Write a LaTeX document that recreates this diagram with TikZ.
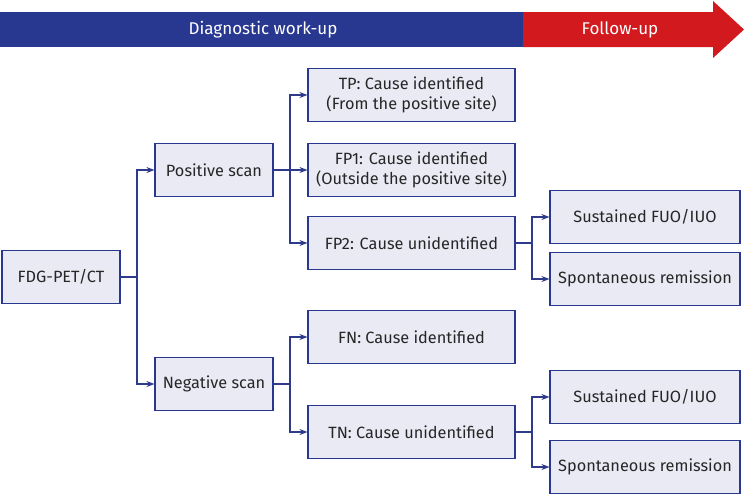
\documentclass[tikz,border=0pt]{standalone}
\usepackage{fontspec}
\setmainfont{Fira Sans}
\usetikzlibrary{arrows.meta}
\definecolor{navy}{HTML}{283891}
\definecolor{linkblue}{HTML}{2E3A8C}
\definecolor{boxfill}{HTML}{E9EAF4}
\definecolor{fuored}{HTML}{D1191E}
\begin{document}
\begin{tikzpicture}[x=1pt,y=-1pt,
    every node/.style={font=\fontsize{16.3}{19.5}\selectfont, text=black!85},
    box/.style={draw=navy, fill=boxfill, line width=1.1pt, minimum height=53pt, inner sep=2pt, align=center},
    smallbox/.style={box, minimum width=118pt},
    midbox/.style={box, minimum width=207pt},
    endbox/.style={box, minimum width=190pt},
    link/.style={draw=linkblue, line width=1.1pt, -{Stealth[length=8pt,width=6pt]}},
    band/.style={text=white, font=\fontsize{17}{20}\selectfont}]

    \useasboundingbox (0,0) rectangle (744,496);

    % timeline bar
    \fill[navy] (0,12) rectangle (523,47);
    \fill[fuored] (523,12) -- (713,12) -- (713,1) -- (744,29.5) -- (713,58) -- (713,47) -- (523,47) -- cycle;
    \node[band] (diag) at (263,29.5) {Diagnostic work-up};
    \node[band] (follow) at (620,29.5) {Follow-up};

    % boxes
    \node[smallbox] (pet) at (61,277) {FDG-PET/CT};
    \node[smallbox] (pos) at (214,170) {Positive scan};
    \node[smallbox] (neg) at (214,384) {Negative scan};

    \node[midbox] (tp)  at (411.5,95)  {TP: Cause identified\\(From the positive site)};
    \node[midbox] (fp1) at (411.5,170) {FP1: Cause identified\\(Outside the positive site)};
    \node[midbox] (fp2) at (411.5,243) {FP2: Cause unidentified};
    \node[midbox] (fn)  at (411.5,337) {FN: Cause identified};
    \node[midbox] (tn)  at (411.5,432) {TN: Cause unidentified};

    \node[endbox] (sus1) at (645,217) {Sustained FUO/IUO};
    \node[endbox] (rem1) at (645,279) {Spontaneous remission};
    \node[endbox] (sus2) at (645,397) {Sustained FUO/IUO};
    \node[endbox] (rem2) at (645,467) {Spontaneous remission};

    % branch points
    \coordinate (j0) at (137,277);
    \coordinate (j1) at (290,170);
    \coordinate (j2) at (290,384);
    \coordinate (j3) at (532,243);
    \coordinate (j4) at (532,432);

    \draw[draw=linkblue, line width=1.1pt] (pet.east) -- (j0);
    \draw[draw=linkblue, line width=1.1pt] (neg.east) -- (j2);
    \draw[draw=linkblue, line width=1.1pt] (fp2.east) -- (j3);
    \draw[draw=linkblue, line width=1.1pt] (tn.east) -- (j4);

    \foreach \j/\t in {j0/pos, j0/neg, j1/tp, j1/fp2, j2/fn, j2/tn, j3/sus1, j3/rem1, j4/sus2, j4/rem2}
    {
        \path[link] (\j) |- (\t.west);
    }
    \path[link] (pos.east) -- (fp1.west);

\end{tikzpicture}
\end{document}
